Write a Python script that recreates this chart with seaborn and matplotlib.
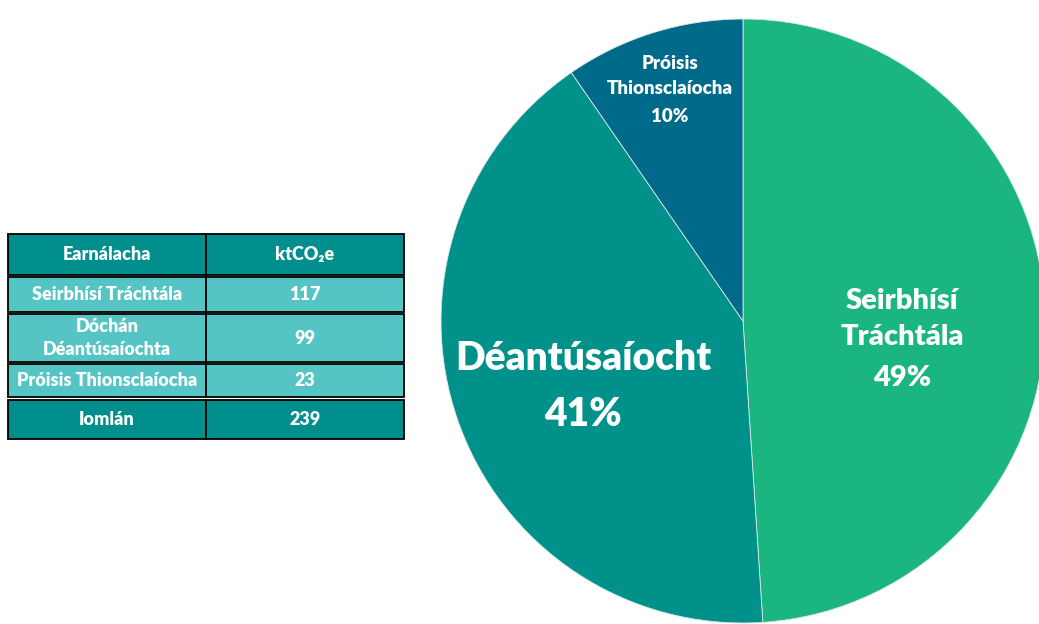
import matplotlib
matplotlib.use("Agg")
import matplotlib.pyplot as plt
import seaborn as sns
from matplotlib.patches import Rectangle

# Data
sectors = ["Seirbhísí Tráchtála", "Déantúsaíocht", "Próisis Thionsclaíocha"]
table_names = ["Seirbhísí Tráchtála", "Dóchán\nDéantúsaíochta", "Próisis Thionsclaíocha"]
values = [117, 99, 23]
pie_labels = ["Seirbhísí\nTráchtála", "Déantúsaíocht", "Próisis\nThionsclaíocha"]
pie_colors = ["#1bb57f", "#00918a", "#006a8a"]

sns.set_theme(style="white")
plt.rcParams["font.family"] = ["Lato", "DejaVu Sans"]

W, H = 1039, 624
fig = plt.figure(figsize=(W / 100, H / 100), dpi=100)

# Pie axes (pixel layout)
cx, cy, r = 743, 321, 302
ax = fig.add_axes([(cx - r) / W, (H - cy - r) / H, 2 * r / W, 2 * r / H])
ax.pie(values, colors=pie_colors, startangle=90, counterclock=False,
       wedgeprops=dict(linewidth=0.6, edgecolor="#d8e8e8"))
ax.set_xlim(-1, 1)
ax.set_ylim(-1, 1)
ax.set_clip_on(False)

total = sum(values)
pcts = [round(v / total * 100) for v in values]


def px2d(px, py):
    return (px - cx) / r, (cy - py) / r


# label positions in pixel coords (name centre, pct centre), font size, line spacing
label_spec = [((902, 319), (902, 378), 21, 1.45),
              ((583, 358), (583, 415), 28, 1.25),
              ((670, 76), (670, 117), 13.5, 1.6)]
for lab, p, (npos, ppos, fs, ls) in zip(pie_labels, pcts, label_spec):
    x, y = px2d(*npos)
    ax.text(x, y, lab, ha="center", va="center", color="white",
            fontsize=fs, fontweight="heavy", linespacing=ls)
    x, y = px2d(*ppos)
    ax.text(x, y, f"{p}%", ha="center", va="center", color="white",
            fontsize=fs, fontweight="heavy")

# Table axes (pixel coords)
tax = fig.add_axes([0, 0, 1, 1])
tax.set_xlim(0, W)
tax.set_ylim(H, 0)
tax.axis("off")

dark = "#008f8c"
light = "#55c4c5"
col_x = [8, 206, 404]
rows = [("Earnálacha", "ktCO₂e", 234, 275, dark)]
row_y = [(277, 312), (314, 362), (364, 397)]
for name, v, (y0, y1) in zip(table_names, values, row_y):
    rows.append((name, str(v), y0, y1, light))
rows.append(("Iomlán", str(total), 400, 439, dark))

for left, right, y0, y1, colr in rows:
    for i, txt in enumerate([left, right]):
        x0, x1 = col_x[i], col_x[i + 1]
        tax.add_patch(Rectangle((x0, y0), x1 - x0, y1 - y0, facecolor=colr,
                                edgecolor="black", linewidth=1.3))
        tax.text((x0 + x1) / 2, (y0 + y1) / 2, txt, ha="center", va="center",
                 color="white", fontsize=13, fontweight="heavy", linespacing=1.45)

fig.savefig("out.png", dpi=100)
